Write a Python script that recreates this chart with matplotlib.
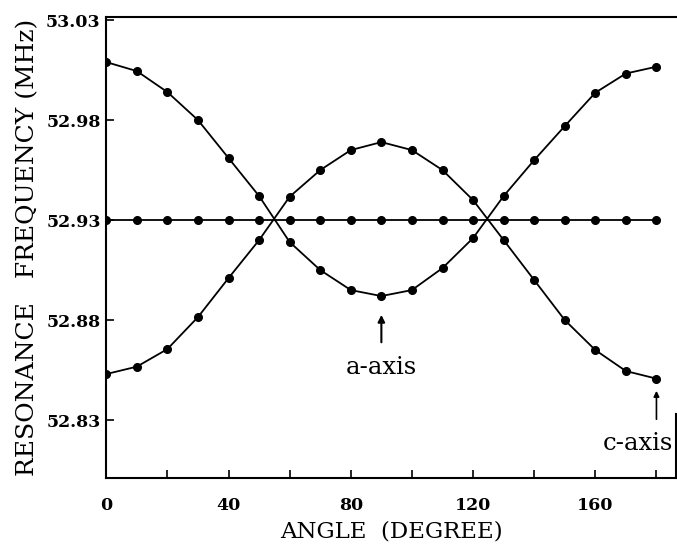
import numpy as np
import matplotlib
matplotlib.use("Agg")
import matplotlib.pyplot as plt

# angle of rotation (degree)
angle = [0, 10, 20, 30, 40, 50, 60, 70, 80, 90,
         100, 110, 120, 130, 140, 150, 160, 170, 180]

# resonance lines (MHz)
line_a = [53.009, 53.0045, 52.994, 52.980, 52.961, 52.942, 52.919, 52.905, 52.895, 52.892,
          52.895, 52.906, 52.921, 52.942, 52.960, 52.977, 52.9937, 53.0033, 53.0067]
line_b = [52.853, 52.8567, 52.8655, 52.8815, 52.901, 52.920, 52.9417, 52.955, 52.965, 52.969,
          52.965, 52.955, 52.940, 52.920, 52.900, 52.880, 52.865, 52.8545, 52.8507]
line_c = [52.93] * len(angle)

x_ticks = [0, 40, 80, 120, 160]
y_ticks = [52.83, 52.88, 52.93, 52.98, 53.03]

plt.rcParams['font.family'] = ['DejaVu Serif']

fig = plt.figure(figsize=(6.77, 5.52), dpi=100)
ax = fig.add_axes([0.157, 0.134, 0.842, 0.835])

for ys in (line_a, line_b, line_c):
    ax.plot(angle, ys, color='black', lw=1.3, marker='o', ms=5.5)

ax.set_xlim(0, 186.5)
ax.set_ylim(52.801, 53.0315)

ax.set_xticks(np.arange(0, 181, 20), minor=True)
ax.set_xticks(x_ticks)
ax.set_xticklabels([str(t) for t in x_ticks], fontsize=12.5, fontweight='bold')
ax.set_yticks(y_ticks)
ax.set_yticklabels([f"{t:.2f}" for t in y_ticks], fontsize=12.5, fontweight='bold')
ax.tick_params(axis='x', which='both', direction='in', length=6, width=1.2, pad=14)
ax.tick_params(axis='y', direction='in', length=6, width=1.2, pad=4)

for s in ('left', 'bottom', 'top'):
    ax.spines[s].set_linewidth(1.5)
ax.spines['right'].set_visible(False)
ax.plot([1, 1], [0, 0.14], transform=ax.transAxes, color='black', lw=1.5, clip_on=False)

ax.set_xlabel("ANGLE  (DEGREE)", fontsize=16.5, labelpad=4)
ax.set_ylabel("RESONANCE   FREQUENCY (MHz)", fontsize=18, labelpad=5)

ax.annotate("", xy=(90, 52.884), xytext=(90, 52.8675),
            arrowprops=dict(arrowstyle='-|>', color='black', lw=1.5, mutation_scale=10))
ax.text(90, 52.8565, "a-axis", fontsize=17.5, ha='center', va='center')
ax.annotate("", xy=(180, 52.846), xytext=(180, 52.829),
            arrowprops=dict(arrowstyle='-|>', color='black', lw=1.2, mutation_scale=8))
ax.text(174, 52.8185, "c-axis", fontsize=17.5, ha='center', va='center')

fig.savefig("out.png", dpi=100)
